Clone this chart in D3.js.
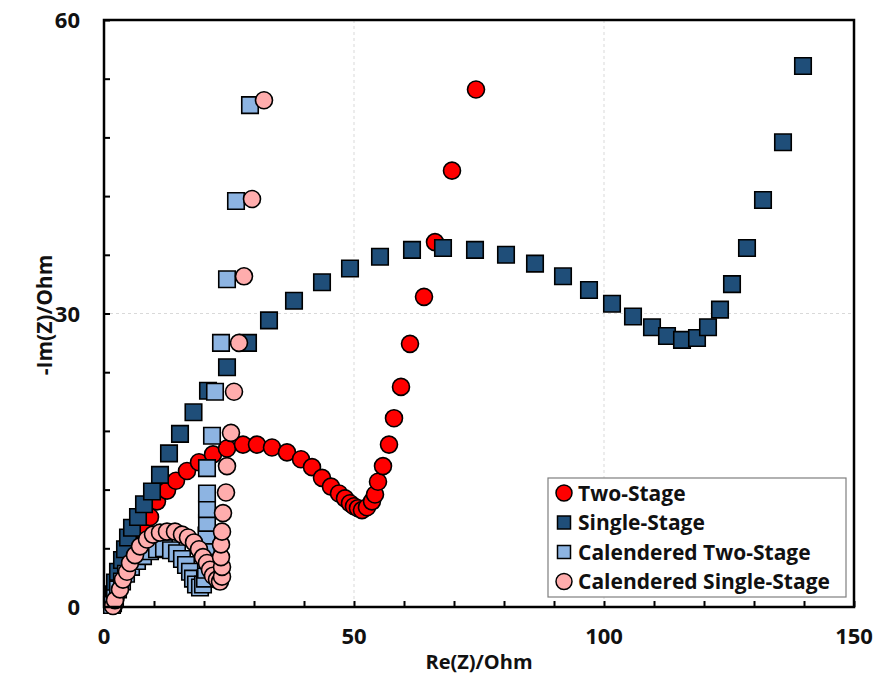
<!DOCTYPE html>
<html>
<head>
<meta charset="utf-8">
<script src="https://cdn.jsdelivr.net/npm/d3@7"></script>
<style>
  body { margin: 0; background: #fff; }
  svg text { font-family: "Open Sans", Lato, sans-serif; font-weight: bold; fill: #111; }
</style>
</head>
<body>
<svg id="chart" width="880" height="677"></svg>
<script>
// ── data (Re, -Im) in Ohm ─────────────────────────────────────
const twoStage = [
  [2.0, 0.2], [2.3, 0.9], [2.7, 1.7], [3.2, 2.6], [3.8, 3.5], [4.6, 4.5], [5.5, 5.6],
  [6.6, 6.7], [7.8, 7.8], [9.2, 9.2], [10.6, 10.8], [12.6, 11.9], [14.4, 12.9],
  [16.6, 13.9], [19.0, 14.8], [21.8, 15.6], [24.6, 16.2], [27.8, 16.6], [30.6, 16.6],
  [33.6, 16.3], [36.6, 15.8], [39.4, 15.1], [41.6, 14.3], [43.6, 13.2], [45.4, 12.3],
  [47.0, 11.6], [48.2, 11.1], [49.2, 10.6], [50.0, 10.3], [50.8, 10.1], [51.6, 9.9],
  [52.6, 10.2], [53.6, 10.8], [54.2, 11.5], [54.8, 12.8], [55.8, 14.4], [57.0, 16.6],
  [58.0, 19.3], [59.4, 22.5], [61.2, 26.9], [64.0, 31.7], [66.2, 37.3], [69.6, 44.6],
  [74.4, 52.9]
];
const singleStage = [
  [1.8, 0.4], [1.9, 1.3], [2.2, 2.5], [2.8, 3.6], [3.6, 4.8], [4.2, 5.9], [4.8, 7.1],
  [5.6, 8.1], [6.8, 9.2], [8.0, 10.5], [9.6, 11.8], [11.2, 13.5], [13.0, 15.7],
  [15.2, 17.7], [17.9, 19.9], [20.8, 22.1], [24.6, 24.5], [28.8, 27.0], [33.0, 29.3],
  [38.0, 31.3], [43.6, 33.2], [49.2, 34.6], [55.2, 35.8], [61.6, 36.5], [67.8, 36.7],
  [74.2, 36.5], [80.4, 36.0], [86.2, 35.1], [91.8, 33.8], [97.0, 32.4], [101.6, 31.0],
  [105.8, 29.7], [109.6, 28.6], [112.6, 27.7], [115.6, 27.3], [118.6, 27.5],
  [120.8, 28.6], [123.2, 30.4], [125.6, 33.0], [128.6, 36.7], [131.8, 41.6],
  [135.8, 47.5], [139.8, 55.3]
];
const calTwoStage = [
  [1.6, 0.2], [2.2, 0.9], [2.8, 1.8], [3.6, 2.6], [4.4, 3.4], [5.4, 4.1], [6.6, 4.7],
  [7.8, 5.2], [9.2, 5.7], [10.6, 5.9], [12.0, 6.0], [13.4, 5.8], [14.6, 5.5],
  [15.6, 4.9], [16.4, 4.3], [17.2, 3.6], [17.8, 2.9], [18.4, 2.3], [19.2, 2.0],
  [19.8, 2.3], [20.2, 2.9], [20.4, 3.8], [20.4, 4.8], [20.4, 6.0], [20.5, 7.3],
  [20.6, 8.6], [20.6, 10.0], [20.6, 11.6], [20.6, 14.2], [21.6, 17.5], [22.2, 22.0],
  [23.4, 27.0], [24.6, 33.5], [26.4, 41.5], [29.2, 51.3]
];
const calSingleStage = [
  [1.8, 0.1], [2.2, 0.7], [3.2, 1.8], [3.8, 2.8], [4.6, 3.6], [5.2, 4.5], [6.2, 5.3],
  [7.2, 6.2], [8.6, 6.9], [9.8, 7.4], [11.2, 7.6], [12.6, 7.7], [14.2, 7.7],
  [15.6, 7.4], [16.8, 7.1], [18.0, 6.6], [19.0, 5.9], [19.8, 5.1], [20.6, 4.5],
  [21.2, 3.8], [21.8, 3.2], [22.6, 2.8], [23.2, 2.6], [23.6, 3.1], [23.6, 4.1],
  [23.4, 5.1], [23.4, 6.4], [23.6, 7.7], [23.8, 9.6], [24.4, 11.7], [24.6, 14.4],
  [25.4, 17.8], [26.0, 22.0], [27.0, 27.0], [28.0, 33.8], [29.6, 41.7], [32.0, 51.8]
];

const seriesNames = ["Two-Stage", "Single-Stage", "Calendered Two-Stage", "Calendered Single-Stage"];
const seriesData = [twoStage, singleStage, calTwoStage, calSingleStage];
const seriesShapes = ["circle", "square", "square", "circle"];
const seriesColors = ["#ff0000", "#1f4e79", "#8db4e2", "#ffadad"];

const xTickLabels = [0, 50, 100, 150];
const yTickLabels = [0, 30, 60];

// ── layout ────────────────────────────────────────────────────
const svg = d3.select("#chart");
const L = 104, R = 854, T = 20, B = 607;

const x = d3.scaleLinear().domain([0, 150]).range([L, R]);
const y = d3.scaleLinear().domain([0, 60]).range([B, T]);

// grid
svg.append("g").selectAll("line").data([50, 100]).join("line")
  .attr("x1", (d) => x(d)).attr("x2", (d) => x(d)).attr("y1", T).attr("y2", B)
  .attr("stroke", "#d9d9d9").attr("stroke-dasharray", "3,3");
svg.append("line")
  .attr("x1", L).attr("x2", R).attr("y1", y(30)).attr("y2", y(30))
  .attr("stroke", "#d9d9d9").attr("stroke-dasharray", "3,3");

// axes (ticks inward, labels added separately)
svg.append("g").attr("transform", `translate(0,${B})`)
  .call(d3.axisBottom(x).tickValues(d3.range(0, 151, 10)).tickSize(-6).tickFormat(""))
  .call((g) => g.select(".domain").remove())
  .call((g) => g.selectAll("line").attr("stroke", "#000").attr("stroke-width", 2));
svg.append("g").attr("transform", `translate(${L},0)`)
  .call(d3.axisLeft(y).tickValues(d3.range(0, 61, 6)).tickSize(-6).tickFormat(""))
  .call((g) => g.select(".domain").remove())
  .call((g) => g.selectAll("line").attr("stroke", "#000").attr("stroke-width", 2));

// markers
const sym = { circle: d3.symbolCircle, square: d3.symbolSquare };
const symSize = { circle: Math.PI * 8.5 * 8.5, square: 16.5 * 16.5 };

seriesData.forEach((data, i) => {
  const shape = seriesShapes[i];
  svg.append("g").selectAll("path").data(data).join("path")
    .attr("d", d3.symbol().type(sym[shape]).size(symSize[shape]))
    .attr("transform", (d) => `translate(${x(d[0])},${y(d[1])})`)
    .attr("fill", seriesColors[i])
    .attr("stroke", "#000")
    .attr("stroke-width", 1.6);
});

// frame
svg.append("rect")
  .attr("x", L).attr("y", T).attr("width", R - L).attr("height", B - T)
  .attr("fill", "none").attr("stroke", "#000").attr("stroke-width", 2.5);

// tick labels
svg.append("g").selectAll("text").data(xTickLabels).join("text")
  .attr("x", (d) => x(d)).attr("y", 644)
  .attr("text-anchor", "middle").attr("font-size", 22)
  .text((d) => d);
svg.append("g").selectAll("text").data(yTickLabels).join("text")
  .attr("x", 80).attr("y", (d) => y(d) + 8)
  .attr("text-anchor", "end").attr("font-size", 22)
  .text((d) => d);

// axis titles
svg.append("text").attr("x", 479).attr("y", 669)
  .attr("text-anchor", "middle").attr("font-size", 20).text("Re(Z)/Ohm");
svg.append("text").attr("transform", "translate(52,315) rotate(-90)")
  .attr("text-anchor", "middle").attr("font-size", 21).text("-Im(Z)/Ohm");

// legend
const lg = svg.append("g");
lg.append("rect").attr("x", 548).attr("y", 478).attr("width", 298).attr("height", 119)
  .attr("fill", "#fff").attr("stroke", "#7f7f7f").attr("stroke-width", 1.2);
seriesNames.forEach((name, i) => {
  const cy = 493 + i * 29.5;
  const shape = seriesShapes[i];
  lg.append("path")
    .attr("d", d3.symbol().type(sym[shape]).size(shape === "circle" ? Math.PI * 8 * 8 : 13 * 13))
    .attr("transform", `translate(564,${cy})`)
    .attr("fill", seriesColors[i]).attr("stroke", "#000").attr("stroke-width", 1.5);
  lg.append("text").attr("x", 578).attr("y", cy + 7.5)
    .attr("font-size", 21).text(name);
});
</script>
</body>
</html>
